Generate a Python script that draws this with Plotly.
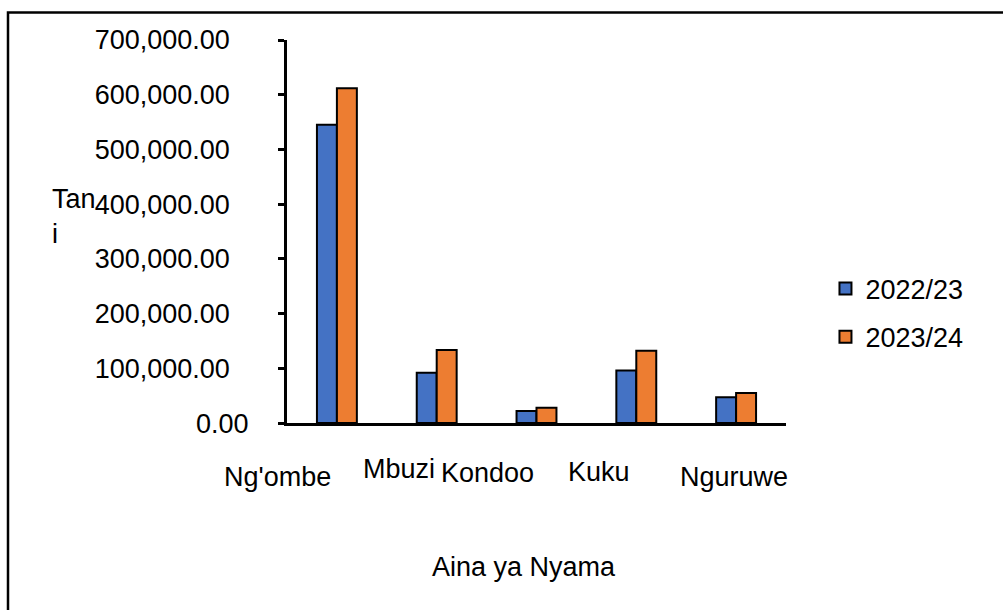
import plotly.graph_objects as go

categories = ["Ng'ombe", "Mbuzi", "Kondoo", "Kuku", "Nguruwe"]
series_names = ["2022/23", "2023/24"]
values_2022_23 = [545000, 92000, 22000, 96000, 47000]
values_2023_24 = [612000, 133500, 28000, 132000, 55000]
y_tick_values = [0, 100000, 200000, 300000, 400000, 500000, 600000, 700000]
x_axis_title = "Aina ya Nyama"
y_axis_title = "Tan<br>i"

# label offsets (pixels) for the staggered category labels
label_xshift = [-59, -38, -49, -37, -2]
label_yshift = [-54, -46, -50, -49, -54]

FONT = "Liberation Sans, Arial, sans-serif"
FS = 27
colors = ["#4472C4", "#ED7D31"]

fig = go.Figure()
for name, vals, col in zip(series_names, [values_2022_23, values_2023_24], colors):
    fig.add_trace(go.Bar(
        x=categories, y=vals, name=name, legendgroup=name,
        marker=dict(color=col, line=dict(color="black", width=2)),
    ))

L, R, T, B = 287, 217, 40, 187
W, H = 1003, 610
pw = W - L - R
ph = H - T - B

# tick labels; the zero label sits further right in the original, drawn separately
tick_text = [f"{v:,.2f}" if v != 0 else "" for v in y_tick_values]

annotations = []
for cat, dx, dy in zip(categories, label_xshift, label_yshift):
    annotations.append(dict(
        x=cat, y=0, xref="x", yref="paper", text=cat, showarrow=False,
        xanchor="center", yanchor="middle", xshift=dx, yshift=dy,
        font=dict(family=FONT, size=FS, color="black"),
    ))
annotations.append(dict(
    x=(251 - L) / pw, y=y_tick_values[0], xref="paper", yref="y",
    text=f"{y_tick_values[0]:,.2f}", showarrow=False, xanchor="right", yanchor="middle",
    yshift=-1, font=dict(family=FONT, size=FS, color="black"),
))
annotations.append(dict(
    x=(524 - L) / pw, y=(H - B - 567) / ph, xref="paper", yref="paper",
    text=x_axis_title, showarrow=False, xanchor="center", yanchor="middle",
    font=dict(family=FONT, size=FS, color="black"),
))
annotations.append(dict(
    x=(50 - L) / pw, y=(H - B - 182) / ph, xref="paper", yref="paper",
    text=y_axis_title, showarrow=False, xanchor="left", yanchor="top", align="left",
    font=dict(family=FONT, size=FS, color="black"),
))

fig.update_layout(
    width=W, height=H,
    margin=dict(l=L, r=R, t=T, b=B, autoexpand=False),
    paper_bgcolor="white", plot_bgcolor="white",
    barmode="group", bargap=0.6, bargroupgap=0,
    font=dict(family=FONT, size=FS, color="black"),
    showlegend=True,
    legend=dict(
        xref="container", yref="container", x=0.823, y=1 - 313 / H,
        xanchor="left", yanchor="middle",
        font=dict(family=FONT, size=FS, color="black"),
        tracegroupgap=10, traceorder="grouped",
        bgcolor="rgba(0,0,0,0)",
    ),
    xaxis=dict(
        showticklabels=False, showline=True, linecolor="black", linewidth=2.5,
        ticks="", showgrid=False, zeroline=False, range=[-0.5, 4.5],
    ),
    yaxis=dict(
        range=[0, 700000], tickvals=y_tick_values, ticktext=tick_text,
        showline=True, linecolor="black", linewidth=2.5,
        ticks="outside", ticklen=6, tickwidth=2.5, tickcolor="black",
        showgrid=False, zeroline=False, ticklabelstandoff=43,
        tickfont=dict(family=FONT, size=FS, color="black"),
    ),
    annotations=annotations,
    shapes=[dict(
        type="rect", xref="paper", yref="paper",
        x0=(8 - L) / pw, x1=(W + 20 - L) / pw,
        y0=(H - B - (H + 20)) / ph, y1=(H - B - 12.5) / ph,
        line=dict(color="black", width=2.5), fillcolor="rgba(0,0,0,0)", layer="below",
    )],
)

fig.write_html("out.html", config={"displayModeBar": False},
               post_script="document.body.style.margin='0';")
